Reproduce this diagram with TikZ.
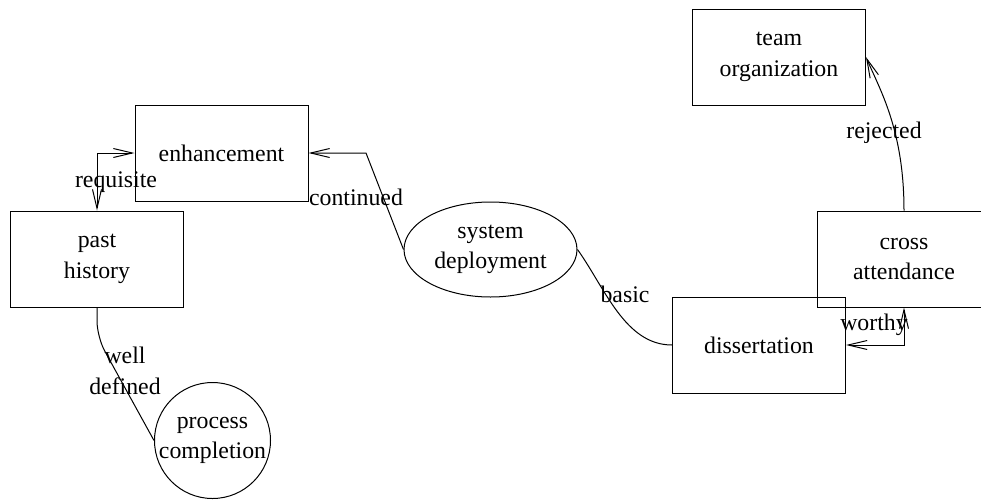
\documentclass[tikz,border=0pt]{standalone}
\usepackage{fontspec}
\setmainfont{Liberation Serif}
\usetikzlibrary{arrows.meta,shapes.geometric}

\begin{document}
\begin{tikzpicture}[x=0.5pt, y=-0.5pt, line width=0.5pt,
  >={Straight Barb[length=9.5pt, width=4.5pt]},
  every node/.style={font=\fontsize{11.9}{15.25}\selectfont, align=center},
  box/.style={draw, minimum width=86.5pt, minimum height=48pt, inner sep=0pt},
  oval/.style={draw, ellipse, minimum width=86.5pt, minimum height=47.5pt, inner sep=0pt},
  circ/.style={draw, circle, minimum size=58pt, inner sep=-1pt},
  lbl/.style={anchor=base, inner sep=0pt}]
\useasboundingbox (0,0) rectangle (981,499);
% nodes
\node[box] (team) at (779,57) {team\\organization};
\node[box] (enh) at (221.5,153) {enhancement};
\node[box] (past) at (97,259) {past\\history};
\node[oval] (sys) at (490.5,249.5) {system\\deployment};
\node[box] (cross) at (904,259) {cross\\attendance};
\node[box] (diss) at (759,345) {dissertation};
\node[circ] (proc) at (212.5,440.5) {process\\completion};
% connectors
\draw[<->] (past.north) |- (enh.west);
\node[lbl] (lreq) at (116,187) {requisite};
\coordinate (cbend) at (366,153);
\draw[->] (sys.west) -- (cbend) -- (enh.east);
\node[lbl] (lcont) at (356,205) {continued};
\draw (sys.east) .. controls (605,288) and (625,345) .. (diss.west);
\node[lbl] (lbasic) at (625,302) {basic};
\draw[<->] (cross.south) |- (diss.east);
\node[lbl] (lworthy) at (874,330) {worthy};
\draw[->] (cross.north) .. controls (904,130) and (880,90) .. (team.east);
\node[lbl] (lrej) at (884,138) {rejected};
\coordinate (wbend) at (97,337);
\draw[rounded corners=8pt] (past.south) -- (wbend) -- (proc.west);
\node (lwell) at (125,371) {well\\defined};
\end{tikzpicture}
\end{document}
